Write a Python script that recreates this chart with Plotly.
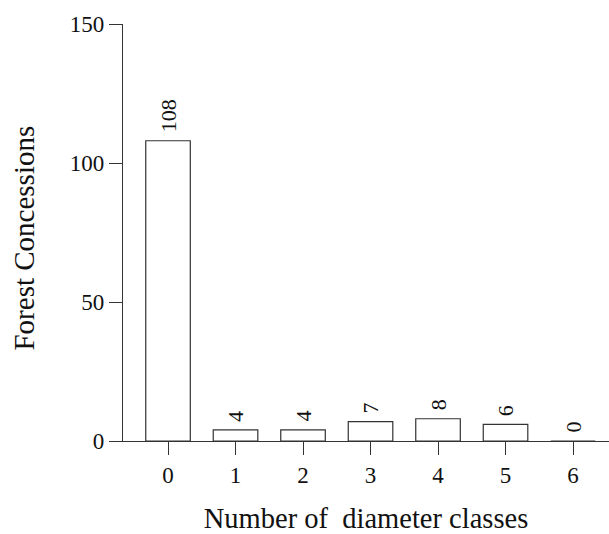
import plotly.graph_objects as go

# Forest concessions by number of diameter classes
classes = [0, 1, 2, 3, 4, 5, 6]
concessions = [108, 4, 4, 7, 8, 6, 0]
y_ticks = [0, 50, 100, 150]

FONT = "Liberation Serif, Times New Roman, serif"
INK = "#333333"
TEXT = "#111111"

fig = go.Figure()
fig.add_trace(go.Bar(
    x=classes,
    y=concessions,
    width=0.66,
    marker=dict(color="white", line=dict(color=INK, width=1.2)),
    hoverinfo="x+y",
))

# Rotated value labels above each bar
for c, v in zip(classes, concessions):
    fig.add_annotation(
        x=c, y=v, text=str(v), textangle=-90,
        showarrow=False, xanchor="center", yanchor="bottom",
        yshift=6, font=dict(family=FONT, size=22, color=TEXT),
    )

# Vertical axis title, placed in paper coordinates
fig.add_annotation(
    x=-123 / 486 + 24 / 486, y=0.488, xref="paper", yref="paper",
    text="Forest Concessions", textangle=-90, showarrow=False,
    xanchor="center", yanchor="middle",
    font=dict(family=FONT, size=29, color=TEXT),
)

fig.update_layout(
    width=609, height=534,
    margin=dict(l=123, r=0, t=23.5, b=93.3),
    paper_bgcolor="white", plot_bgcolor="white",
    showlegend=False,
    font=dict(family=FONT, color=TEXT),
    xaxis=dict(
        range=[-0.667, 6.533],
        tickmode="array", tickvals=classes, ticktext=[str(c) for c in classes],
        ticks="outside", ticklen=13, tickwidth=1.2, tickcolor=INK,
        showline=True, linecolor=INK, linewidth=1.2,
        showgrid=False, zeroline=False,
        tickfont=dict(size=23),
        title=dict(text="Number of\u00a0 diameter classes", font=dict(size=28.5), standoff=27),
    ),
    yaxis=dict(
        range=[0, 150],
        tickmode="array", tickvals=y_ticks,
        ticks="outside", ticklen=13, tickwidth=1.2, tickcolor=INK,
        showline=True, linecolor=INK, linewidth=1.2,
        showgrid=False, zeroline=False,
        tickfont=dict(size=23),
    ),
)

fig.write_html("out.html")
